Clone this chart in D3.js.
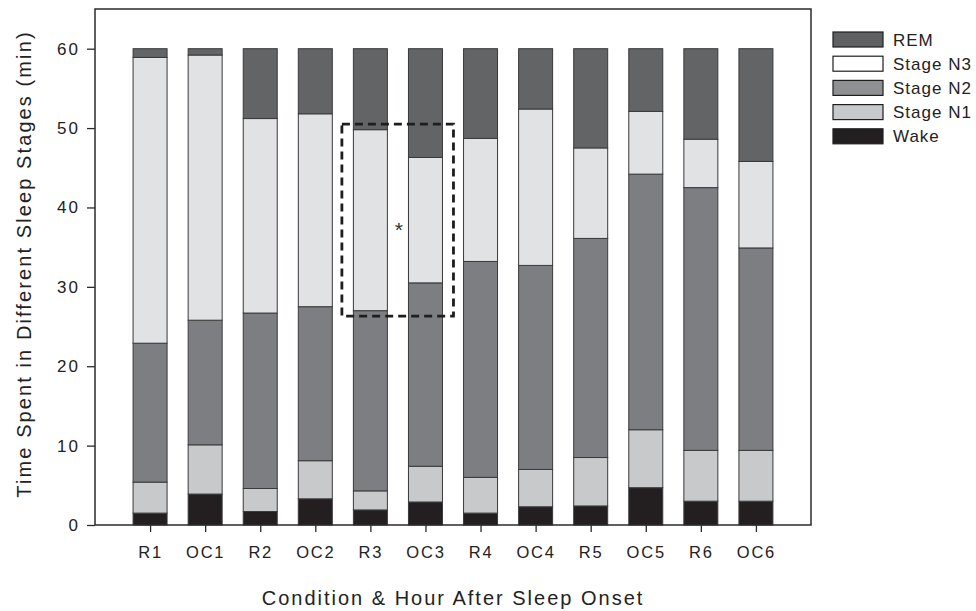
<!DOCTYPE html>
<html>
<head>
<meta charset="utf-8">
<script src="https://cdn.jsdelivr.net/npm/d3@7"></script>
<style>
  html, body { margin: 0; padding: 0; background: #fff; }
  svg { display: block; font-family: "Liberation Sans", Arial, sans-serif; }
</style>
</head>
<body>
<svg id="chart" width="976" height="611"></svg>
<script>
// ---- data (minutes per stage, per condition/hour) ----
const categories = ["R1","OC1","R2","OC2","R3","OC3","R4","OC4","R5","OC5","R6","OC6"];
const stages = ["Wake","Stage N1","Stage N2","Stage N3","REM"];
const wake = [1.5, 3.9, 1.7, 3.3, 1.9, 2.9, 1.5, 2.3, 2.4, 4.7, 3.0, 3.0];
const n1   = [3.9, 6.2, 2.9, 4.8, 2.4, 4.5, 4.5, 4.7, 6.1, 7.3, 6.4, 6.4];
const n2   = [17.5, 15.7, 22.1, 19.4, 22.7, 23.1, 27.2, 25.7, 27.6, 32.2, 33.1, 25.5];
const n3   = [36.0, 33.4, 24.5, 24.3, 22.8, 15.8, 15.5, 19.7, 11.4, 7.9, 6.1, 10.9];
const rem  = [1.1, 0.8, 8.8, 8.2, 10.2, 13.7, 11.3, 7.6, 12.5, 7.9, 11.4, 14.2];
const yTicks = [0, 10, 20, 30, 40, 50, 60];
const legendOrder = ["REM","Stage N3","Stage N2","Stage N1","Wake"];
// significance annotation
const boxCats = ["R3","OC3"];
const boxRange = [26.3, 50.5];
const starValue = 37.8;

// ---- styles ----
const barColor = {"Wake":"#231f20","Stage N1":"#c8c9cb","Stage N2":"#7d7e82","Stage N3":"#e1e2e4","REM":"#636466"};
const legendColor = {"Wake":"#231f20","Stage N1":"#c8c9cb","Stage N2":"#8f9093","Stage N3":"#ffffff","REM":"#5f6062"};

const table = categories.map((c, i) => ({cat: c, "Wake": wake[i], "Stage N1": n1[i], "Stage N2": n2[i], "Stage N3": n3[i], "REM": rem[i]}));
const series = d3.stack().keys(stages)(table);

const svg = d3.select("#chart");
const L = 95, R = 811, T = 9, B = 525;

const x = d3.scalePoint().domain(categories).range([L, R]).padding(1);
const y = d3.scaleLinear().domain([0, 65]).range([B, T]);
const bw = 34;

// bars
const g = svg.append("g");
series.forEach(s => {
  g.append("g").selectAll("rect").data(s).join("rect")
    .attr("x", d => x(d.data.cat) - bw / 2)
    .attr("y", d => y(d[1]))
    .attr("width", bw)
    .attr("height", d => y(d[0]) - y(d[1]))
    .attr("fill", barColor[s.key])
    .attr("stroke", "#3a3a3c")
    .attr("stroke-width", 1);
});

// frame
svg.append("rect").attr("x", L).attr("y", T).attr("width", R - L).attr("height", B - T)
  .attr("fill", "none").attr("stroke", "#2b2b2b").attr("stroke-width", 1.5);

// y axis
const yAxis = svg.append("g").attr("transform", `translate(${L},0)`)
  .call(d3.axisLeft(y).tickValues(yTicks).tickSize(8).tickPadding(7));
yAxis.select(".domain").remove();
yAxis.selectAll("line").attr("stroke", "#2b2b2b").attr("stroke-width", 1.3);
yAxis.selectAll("text").attr("font-size", 17).attr("letter-spacing", 2).attr("fill", "#222")
  .attr("font-family", "Liberation Sans, Arial, sans-serif");

// x axis
const xAxis = svg.append("g").attr("transform", `translate(0,${B})`)
  .call(d3.axisBottom(x).tickSize(7).tickPadding(14));
xAxis.select(".domain").remove();
xAxis.selectAll("line").attr("stroke", "#2b2b2b").attr("stroke-width", 1.3);
xAxis.selectAll("text").attr("font-size", 16.5).attr("fill", "#222").attr("letter-spacing", 1.8)
  .attr("font-family", "Liberation Sans, Arial, sans-serif");

// axis titles
svg.append("text").attr("x", (L + R) / 2).attr("y", 605).attr("text-anchor", "middle")
  .attr("font-size", 20).attr("letter-spacing", 2).attr("fill", "#222")
  .text("Condition & Hour After Sleep Onset");
svg.append("text").attr("transform", `translate(31,${(T + B) / 2 - 3}) rotate(-90)`).attr("text-anchor", "middle")
  .attr("font-size", 20).attr("letter-spacing", 2.1).attr("fill", "#222")
  .text("Time Spent in Different Sleep Stages (min)");

// significance box
svg.append("rect")
  .attr("x", x(boxCats[0]) - 28.5)
  .attr("y", y(boxRange[1]))
  .attr("width", x(boxCats[1]) - x(boxCats[0]) + 56.5)
  .attr("height", y(boxRange[0]) - y(boxRange[1]))
  .attr("fill", "none").attr("stroke", "#1e1e1e").attr("stroke-width", 2.8)
  .attr("stroke-dasharray", "8,5");
svg.append("text").attr("x", (x(boxCats[0]) + x(boxCats[1])) / 2 + 1).attr("y", y(starValue) + 12)
  .attr("text-anchor", "middle").attr("font-size", 21).attr("fill", "#333").text("*");

// legend
const lg = svg.append("g");
legendOrder.forEach((k, i) => {
  const cy = 39.5 + i * 24.2;
  lg.append("rect").attr("x", 833).attr("y", cy - 7.5).attr("width", 50).attr("height", 15)
    .attr("fill", legendColor[k]).attr("stroke", "#1e1e1e").attr("stroke-width", 1.2);
  lg.append("text").attr("x", 893).attr("y", cy + 6).attr("font-size", 17).attr("letter-spacing", 1)
    .attr("fill", "#222").text(k);
});
</script>
</body>
</html>
